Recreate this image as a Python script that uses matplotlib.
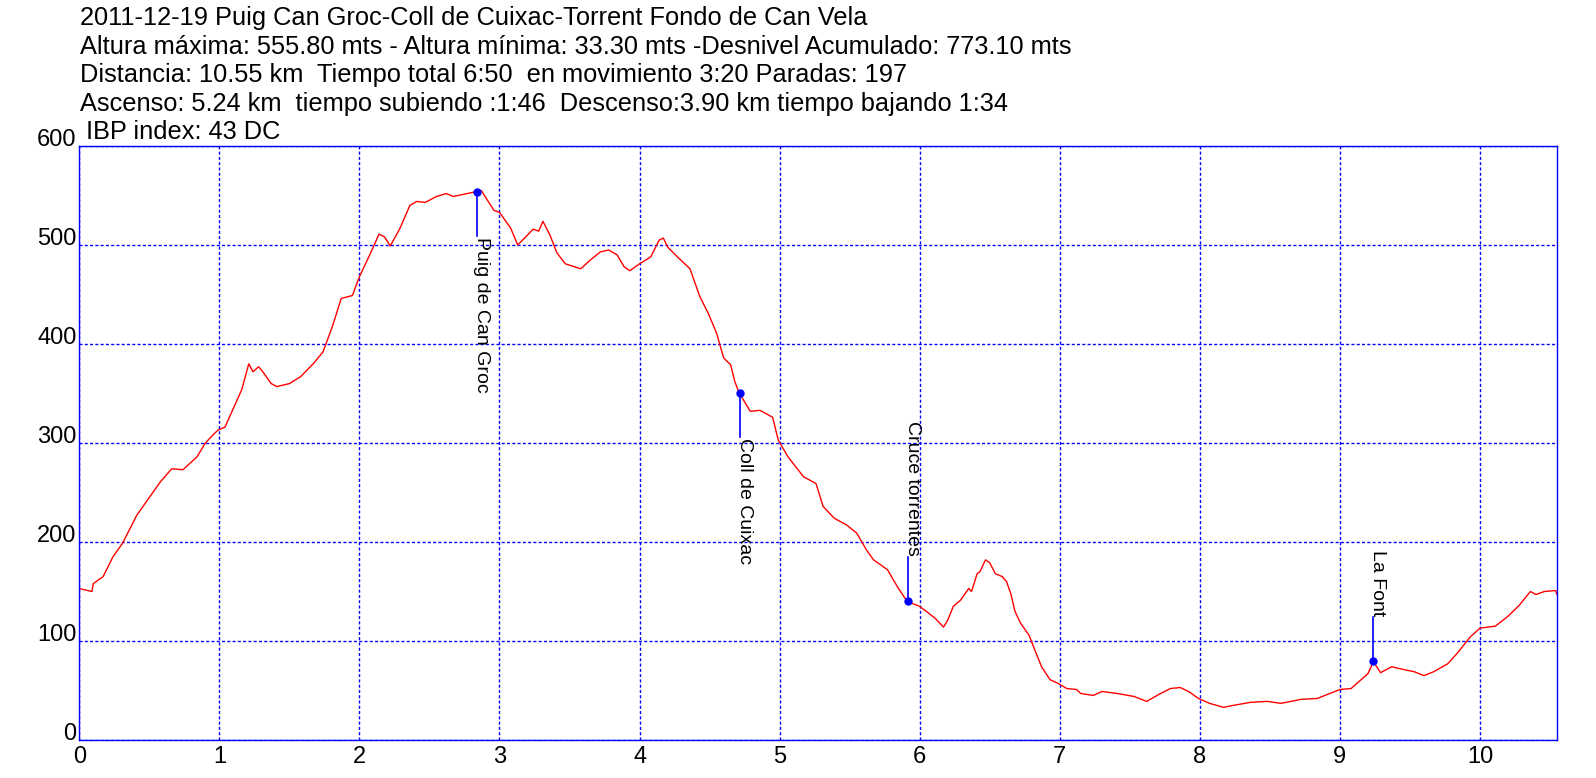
import matplotlib
matplotlib.use("Agg")
import matplotlib.pyplot as plt

plt.rcParams['font.family'] = ['Liberation Sans', 'DejaVu Sans']

## Perfil: distancia (km) y altura (m)
km = [0.00, 0.09, 0.10, 0.17, 0.24, 0.31, 0.41, 0.52, 0.58, 0.66,
      0.74, 0.84, 0.90, 0.96, 0.99, 1.04, 1.10, 1.16, 1.21, 1.24,
      1.28, 1.31, 1.37, 1.41, 1.50, 1.58, 1.67, 1.74, 1.81, 1.87,
      1.95, 2.00, 2.08, 2.14, 2.18, 2.22, 2.29, 2.36, 2.41, 2.47,
      2.55, 2.62, 2.67, 2.77, 2.84, 2.87, 2.96, 3.00, 3.08, 3.13,
      3.20, 3.24, 3.28, 3.31, 3.36, 3.41, 3.47, 3.58, 3.65, 3.72,
      3.78, 3.84, 3.89, 3.93, 4.00, 4.08, 4.14, 4.17, 4.20, 4.27,
      4.36, 4.43, 4.49, 4.55, 4.60, 4.65, 4.68, 4.71, 4.79, 4.86,
      4.95, 4.99, 5.06, 5.17, 5.26, 5.31, 5.39, 5.48, 5.55, 5.62,
      5.67, 5.77, 5.84, 5.91, 6.00, 6.11, 6.17, 6.20, 6.24, 6.29,
      6.35, 6.37, 6.41, 6.43, 6.47, 6.50, 6.54, 6.59, 6.62, 6.65,
      6.68, 6.72, 6.78, 6.83, 6.87, 6.93, 6.99, 7.05, 7.12, 7.15,
      7.24, 7.30, 7.41, 7.53, 7.62, 7.72, 7.79, 7.86, 7.92, 7.99,
      8.07, 8.17, 8.24, 8.36, 8.48, 8.58, 8.72, 8.84, 8.91, 9.00,
      9.08, 9.12, 9.20, 9.24, 9.29, 9.37, 9.46, 9.53, 9.60, 9.67,
      9.77, 9.84, 9.93, 10.00, 10.11, 10.20, 10.28, 10.36, 10.40, 10.46,
      10.54, 10.55]

altura = [153, 150, 158, 165, 185, 199, 227, 249, 261, 274,
          273, 286, 300, 309, 313, 316, 335, 354, 380, 372,
          377, 372, 360, 357, 360, 367, 380, 392, 419, 446,
          449, 468, 492, 511, 508, 499, 517, 540, 544, 543,
          549, 552, 549, 552, 554, 555, 535, 533, 517, 500,
          510, 516, 514, 524, 510, 492, 481, 476, 485, 493,
          495, 490, 478, 474, 481, 488, 505, 507, 498, 488,
          476, 448, 431, 411, 386, 379, 362, 351, 332, 333,
          326, 303, 286, 266, 259, 236, 224, 217, 209, 192,
          182, 172, 155, 140, 135, 123, 114, 121, 135, 141,
          153, 150, 168, 170, 182, 179, 168, 165, 160, 148,
          130, 118, 106, 88, 74, 61, 57, 52, 51, 47,
          45, 49, 47, 44, 39, 47, 52, 53, 49, 42,
          37, 33, 35, 38, 39, 37, 41, 42, 46, 51,
          52, 57, 67, 79, 68, 74, 71, 69, 65, 69,
          77, 88, 104, 113, 115, 125, 136, 150, 147, 150,
          151, 147]

## Puntos de paso
wp_nombre = ['Puig de Can Groc', 'Coll de Cuixac', 'Cruce torrentes', 'La Font']
wp_km = [2.84, 4.714, 5.914, 9.236]
wp_alt = [554, 351, 140, 79.5]
wp_dir = [-1, -1, 1, 1]   # etiqueta por debajo (-1) o por encima (1)

titulo = ['2011-12-19 Puig Can Groc-Coll de Cuixac-Torrent Fondo de Can Vela',
          'Altura máxima: 555.80 mts - Altura mínima: 33.30 mts -Desnivel Acumulado: 773.10 mts',
          'Distancia: 10.55 km  Tiempo total 6:50  en movimiento 3:20 Paradas: 197',
          'Ascenso: 5.24 km  tiempo subiendo :1:46  Descenso:3.90 km tiempo bajando 1:34']

fig = plt.figure(figsize=(15.96, 7.78), dpi=100)
ax = fig.add_axes([79.3 / 1596, 38 / 778, (1557 - 79.3) / 1596, (740 - 146) / 778])

ax.plot(km, altura, color='red', linewidth=1)

for nombre, x, y, d in zip(wp_nombre, wp_km, wp_alt, wp_dir):
    y2 = y + d * 45
    ax.plot([x, x], [y, y2], color='blue', linewidth=1.2)
    ax.plot(x, y, 'o', color='blue', markersize=5)
    ax.text(x, y2 + (-1 if d < 0 else 1), nombre, rotation=270, rotation_mode='anchor',
            ha='left' if d < 0 else 'right', va='baseline', fontsize=14)

ax.set_xlim(0, 10.55)
ax.set_ylim(0, 600)
ax.set_xticks(range(0, 11))
ax.set_yticks(range(0, 601, 100))
ax.grid(True, color='blue', linestyle=(0, (2.2, 1.6)), linewidth=1)
for s in ax.spines.values():
    s.set_color('blue')
    s.set_linewidth(1)
ax.tick_params(length=0, labelsize=17, colors='black')
ax.tick_params(axis='x', pad=4)
ax.tick_params(axis='y', pad=2)
plt.setp(ax.get_yticklabels(), va='baseline')

for i, linea in enumerate(titulo):
    fig.text(80 / 1596, 1 - (25 + i * 28.5) / 778, linea, fontsize=18.3, va='baseline')
fig.text(86 / 1596, 1 - 139 / 778, 'IBP index: 43 DC', fontsize=18.3, va='baseline')

fig.savefig('out.png', dpi=100)
